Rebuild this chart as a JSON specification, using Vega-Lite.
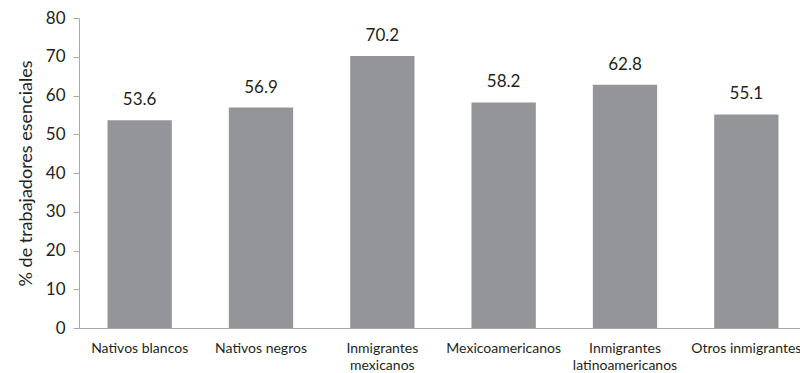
{
  "$schema": "https://vega.github.io/schema/vega-lite/v6.json",
  "autosize": {"type": "none"},
  "padding": {"left": 79, "top": 18, "right": 0, "bottom": 45},
  "width": 728,
  "height": 310,
  "background": "white",
  "data": {"values": [
    {"grupo": "Nativos blancos", "pct": 53.6},
    {"grupo": "Nativos negros", "pct": 56.9},
    {"grupo": "Inmigrantes mexicanos", "pct": 70.2},
    {"grupo": "Mexicoamericanos", "pct": 58.2},
    {"grupo": "Inmigrantes latinoamericanos", "pct": 62.8},
    {"grupo": "Otros inmigrantes", "pct": 55.1}
  ]},
  "config": {
    "view": {"stroke": null},
    "font": "Lato",
    "axis": {"labelFont": "Lato", "titleFont": "Lato", "labelColor": "#231f20", "titleColor": "#231f20", "grid": false, "domainColor": "#a7a9ac", "tickColor": "#a7a9ac"}
  },
  "encoding": {
    "x": {"field": "grupo", "type": "nominal", "sort": null,
      "scale": {"paddingInner": 0.47, "paddingOuter": 0.235},
      "axis": {"title": null, "labelAngle": 0, "ticks": false, "labelFontSize": 14, "labelPadding": 13, "labelLineHeight": 17,
        "labelExpr": "datum.value == 'Inmigrantes mexicanos' ? ['Inmigrantes', 'mexicanos'] : datum.value == 'Inmigrantes latinoamericanos' ? ['Inmigrantes', 'latinoamericanos'] : datum.value"}},
    "y": {"field": "pct", "type": "quantitative",
      "scale": {"domain": [0, 80]},
      "axis": {"title": "% de trabajadores esenciales", "values": [0,10,20,30,40,50,60,70,80], "labelFontSize": 17, "titleFontSize": 18, "titleFontWeight": "normal", "tickSize": 6, "labelPadding": 8, "titlePadding": 10}}
  },
  "layer": [
    {"mark": {"type": "bar", "color": "#939598"}},
    {"mark": {"type": "text", "baseline": "bottom", "dy": -11, "fontSize": 17, "color": "#231f20", "font": "Lato"},
     "encoding": {"text": {"field": "pct", "type": "quantitative", "format": ".1f"}}}
  ]
}
